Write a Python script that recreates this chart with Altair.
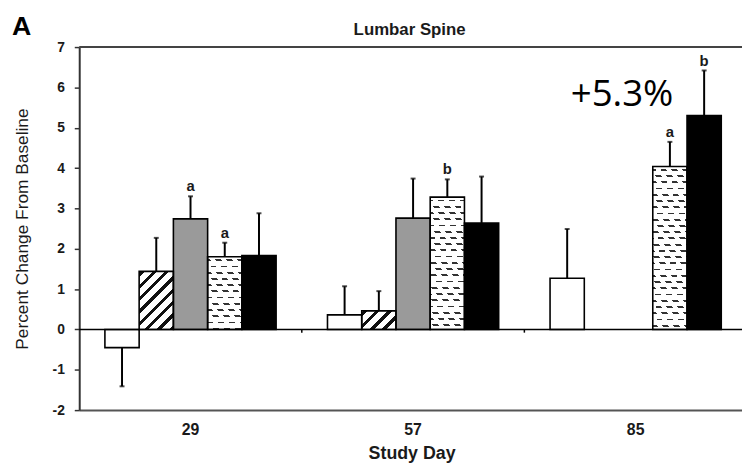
import math
import altair as alt
import pandas as pd

# ---------------- data ----------------
days = ["29", "57", "85"]
groups = ["open", "hatched", "gray", "dotted", "solid"]
means = {
    "open":    [-0.45, 0.36, 1.27],
    "hatched": [1.44, 0.46, None],
    "gray":    [2.74, 2.76, None],
    "dotted":  [1.80, 3.28, 4.04],
    "solid":   [1.83, 2.64, 5.30],
}
errs = {
    "open":    [0.96, 0.71, 1.22],
    "hatched": [0.83, 0.49, None],
    "gray":    [0.56, 0.98, None],
    "dotted":  [0.35, 0.44, 0.61],
    "solid":   [1.05, 1.15, 1.12],
}
letters = {
    "open":    ["", "", ""],
    "hatched": ["", "", ""],
    "gray":    ["a", "", ""],
    "dotted":  ["a", "b", "a"],
    "solid":   ["", "", "b"],
}
y_ticks = [-2, -1, 0, 1, 2, 3, 4, 5, 6, 7]
panel_label = "A"
chart_title = "Lumbar Spine"
y_title = "Percent Change From Baseline"
x_title = "Study Day"
annot_day, annot_group = "85", "solid"

# ---------------- styles / layout ----------------
FONT = "Liberation Sans, Arial, sans-serif"
TXT = "#1a1a1a"
fills = {"open": "white", "hatched": "white", "gray": "#9a9a9a", "dotted": "white", "solid": "black"}
W, H = 670, 367
X_RANGE = 675
Y_MIN, Y_MAX = -2, 7
OUTER = 0.75
BAR_W = X_RANGE / len(days) / (len(groups) + 2 * OUTER)
PX_PER_UNIT = H / (Y_MAX - Y_MIN)

rows = []
for i, d in enumerate(days):
    for g in groups:
        m = means[g][i]
        if m is None:
            continue
        e = errs[g][i]
        end = m + e if m >= 0 else m - e
        rows.append({"day": d, "group": g, "mean": m, "end": end, "letter": letters[g][i]})
df = pd.DataFrame(rows)

CLEAR = "rgba(255,255,255,0)"


def stripes(w, h, nx, ny, period, width, color, phase, bg=CLEAR):
    """Linear gradient (bounding-box units) that draws parallel stripes
    with a given normal direction in pixel space."""
    n = math.hypot(nx, ny)
    nx, ny = nx / n, ny / n
    s_vals = [nx * x + ny * y for x, y in ((0, 0), (w, 0), (0, h), (w, h))]
    smin, smax = min(s_vals), max(s_vals)
    L = smax - smin
    a, b, t0 = nx / L, ny / L, -smin / L
    aw, bh = a * w, b * h
    dd = aw * aw + bh * bh
    vx, vy = aw / dd, bh / dd
    ax, ay = -t0 * vx, -t0 * vy
    stops = [(0.0, bg)]
    k = math.floor((smin - phase) / period) - 1
    while True:
        s0 = phase + k * period
        k += 1
        if s0 > smax:
            break
        o0 = (s0 - smin) / L
        o1 = (s0 + width - smin) / L
        if o1 <= 0 or o0 >= 1:
            continue
        o0, o1 = max(o0, 0.0), min(o1, 1.0)
        stops += [(o0, bg), (o0, color), (o1, color), (o1, bg)]
    stops.append((1.0, bg))
    clean, last = [], 0.0
    for o, c in stops:
        o = max(round(o, 5), last)
        last = o
        clean.append({"offset": o, "color": c})
    return {"gradient": "linear", "x1": round(ax, 5), "y1": round(ay, 5),
            "x2": round(ax + vx, 5), "y2": round(ay + vy, 5), "stops": clean}


# ---------------- encodings ----------------
xscale = alt.Scale(domain=days, range=[0, X_RANGE], paddingInner=0, paddingOuter=0)
xaxis = alt.Axis(title=x_title, labelAngle=0, ticks=False, tickSize=0,
                 domainColor="#555", domainWidth=2,
                 labelFont=FONT, labelFontSize=16, labelFontWeight="bold", labelColor=TXT,
                 labelPadding=12,
                 titleFont=FONT, titleFontSize=18, titleFontWeight="bold", titleColor=TXT,
                 titleX=336, titleY=49, titleBaseline="alphabetic", titleAlign="center")
yscale = alt.Scale(domain=[Y_MIN, Y_MAX], nice=False, zero=False)
yaxis = alt.Axis(title=y_title, values=y_ticks, grid=False, tickSize=5, tickColor="#333",
                 tickWidth=1.5, domainColor="#333", domainWidth=2,
                 labelExpr="'' + datum.value",
                 labelFont=FONT, labelFontSize=14, labelFontWeight="bold", labelColor=TXT,
                 labelPadding=10,
                 titleFont=FONT, titleFontSize=17.5, titleFontWeight="normal", titleColor=TXT,
                 titleX=-48, titleY=H / 2, titleAngle=270, titleBaseline="bottom",
                 titleAlign="center")


def X(**kw):
    return alt.X("day:N", scale=xscale, axis=xaxis, **kw)


def XO():
    return alt.XOffset("group:N", scale=alt.Scale(domain=groups, paddingInner=0, paddingOuter=OUTER))


def Y(field):
    return alt.Y(field, type="quantitative", scale=yscale, axis=yaxis, stack=None)


def YD(v):
    return alt.YDatum(v, type="quantitative", scale=yscale, axis=yaxis)


base = alt.Chart(df)

layers = []
# base fills
layers.append(base.mark_bar(strokeWidth=0).encode(
    x=X(), xOffset=XO(), y=Y("mean"),
    color=alt.Color("group:N", scale=alt.Scale(domain=groups, range=[fills[g] for g in groups]), legend=None),
))

# patterns
for r in rows:
    h = abs(r["mean"]) * PX_PER_UNIT
    sel = base.transform_filter((alt.datum.day == r["day"]) & (alt.datum.group == r["group"]))
    if r["group"] == "hatched":
        grad = stripes(BAR_W, h, 1, 1, 8.8, 3.2, "#111111", 1.0)
        layers.append(sel.mark_bar(fill=grad, strokeWidth=0).encode(x=X(), xOffset=XO(), y=Y("mean")))
    elif r["group"] == "dotted":
        rows_g = stripes(BAR_W, h, 0, 1, 6.3, 1.8, "#333333", 2.5)
        mask_g = stripes(BAR_W, h, 6, -5.5, 11 * 6 / math.hypot(6, 5.5), 5.0 * 6 / math.hypot(6, 5.5),
                         "white", 0.0)
        layers.append(sel.mark_bar(fill=rows_g, strokeWidth=0).encode(x=X(), xOffset=XO(), y=Y("mean")))
        layers.append(sel.mark_bar(fill=mask_g, strokeWidth=0).encode(x=X(), xOffset=XO(), y=Y("mean")))

# outlines
layers.append(base.mark_bar(fillOpacity=0, stroke="black", strokeWidth=1.6).encode(
    x=X(), xOffset=XO(), y=Y("mean")))

# zero line
layers.append(alt.Chart(pd.DataFrame({"z": [0]})).mark_rule(color="black", strokeWidth=1.6).encode(
    y=YD(0)))

# small ticks at group boundaries on the zero line
layers.append(alt.Chart(pd.DataFrame({"day": days[1:]})).mark_rule(color="black", strokeWidth=1.5).encode(
    x=X(bandPosition=0), y=YD(0), y2=alt.Y2Datum(-0.08)))

# error bars
layers.append(base.mark_rule(color="black", strokeWidth=2).encode(
    x=X(), xOffset=XO(), y=Y("mean"), y2="end:Q"))
layers.append(base.mark_tick(color="black", size=5, thickness=2, orient="horizontal").encode(
    x=X(), xOffset=XO(), y=Y("end")))

# significance letters
layers.append(base.transform_filter(alt.datum.letter != "").mark_text(
    font=FONT, fontSize=15, fontWeight="bold", color=TXT, baseline="alphabetic", dy=-5).encode(
    x=X(), xOffset=XO(), y=Y("end"), text="letter:N"))

# +5.3% annotation
layers.append(base.transform_filter((alt.datum.day == annot_day) & (alt.datum.group == annot_group))
              .transform_calculate(lab="'+' + format(datum.mean, '.1f') + '%'")
              .mark_text(font="Open Sans", fontSize=37, color="black", align="center",
                         baseline="alphabetic", dx=-83, dy=-10)
              .encode(x=X(), xOffset=XO(), y=Y("mean"), text="lab:N"))

# top frame line
layers.append(alt.Chart(pd.DataFrame({"z": [0]})).mark_rule(color="#444", strokeWidth=2).encode(
    y=YD(Y_MAX)))

# chart title and panel letter
layers.append(alt.Chart(pd.DataFrame({"t": [chart_title]})).mark_text(
    font=FONT, fontSize=17, fontWeight="bold", color=TXT, align="center", baseline="alphabetic").encode(
    x=alt.value(334), y=alt.value(-12), text="t:N"))
layers.append(alt.Chart(pd.DataFrame({"t": [panel_label]})).mark_text(
    font=FONT, fontSize=27, fontWeight="bold", color="black", align="left", baseline="alphabetic").encode(
    x=alt.value(-68), y=alt.value(-12), text="t:N"))

chart = alt.layer(*layers).properties(
    width=W, height=H,
    padding={"left": 72, "top": 37, "right": 0, "bottom": 54},
    autosize=alt.AutoSizeParams(type="none"),
).configure_view(stroke=None)

chart.save("out.html", embed_options={"renderer": "svg", "actions": False})
